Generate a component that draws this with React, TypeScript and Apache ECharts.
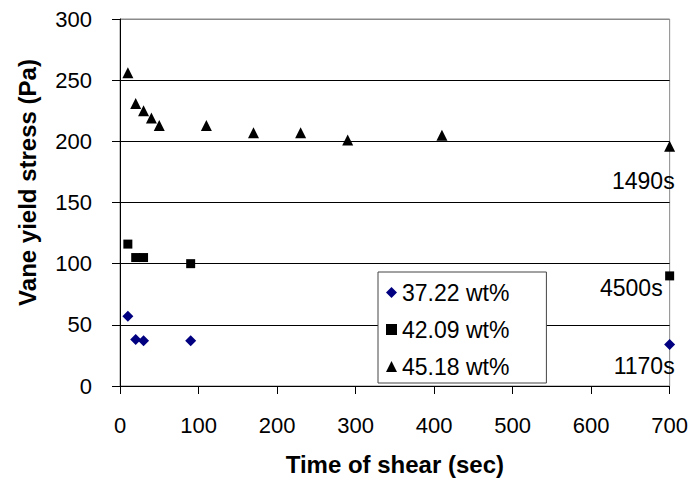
import React, { useEffect, useRef } from "react";
import * as echarts from "echarts";

const FONT = '"Liberation Sans", Arial, Helvetica, sans-serif';

// Series 37.22 wt%
const x37 = [10, 20, 30, 90, 700];
const y37 = [57, 38, 37, 37, 34];
// Series 42.09 wt%
const x42 = [10, 20, 30, 90, 700];
const y42 = [116, 105, 105, 100, 90];
// Series 45.18 wt%
const x45 = [10, 20, 30, 40, 50, 110, 170, 230, 290, 410, 700];
const y45 = [256, 231, 225, 219, 213, 213, 207, 207, 201, 205, 196];

const seriesNames = ["37.22 wt%", "42.09 wt%", "45.18 wt%"];
const endNotes = ["1170s", "4500s", "1490s"];

const xTitle = "Time of shear (sec)";
const yTitle = "Vane yield stress (Pa)";

function build(xs: number[], ys: number[], note: string, offset: number[]) {
  return xs.map((v, i) =>
    i === xs.length - 1
      ? {
          value: [v, ys[i]],
          label: {
            show: true,
            formatter: note,
            position: "inside",
            align: "right",
            verticalAlign: "middle",
            offset,
            fontSize: 23,
            fontFamily: FONT,
            color: "#000",
            opacity: 1,
          },
        }
      : [v, ys[i]]
  );
}

export default function App() {
  const ref = useRef<HTMLDivElement>(null);
  useEffect(() => {
    if (!ref.current) return;
    const chart = echarts.init(ref.current, undefined, { renderer: "svg" });
    chart.setOption({
      animation: false,
      backgroundColor: "#fff",
      textStyle: { fontFamily: FONT },
      grid: {
        left: 120,
        top: 19,
        width: 552,
        height: 367,
        show: true,
        borderColor: "#8a8a8a",
        borderWidth: 1,
        backgroundColor: "transparent",
      },
      legend: {
        orient: "vertical",
        left: 378,
        top: 272,
        padding: [9, 37, 5, 8],
        itemGap: 14,
        itemWidth: 11,
        itemHeight: 11,
        backgroundColor: "#fff",
        borderColor: "#444",
        borderWidth: 1,
        data: seriesNames,
        textStyle: { fontSize: 23, color: "#000", fontFamily: FONT },
      },
      xAxis: {
        type: "value",
        min: 0,
        max: 700,
        interval: 100,
        name: xTitle,
        nameLocation: "middle",
        nameGap: 66,
        nameTextStyle: { fontSize: 24, fontWeight: "bold", color: "#000", fontFamily: FONT },
        axisLine: { show: true, lineStyle: { color: "#000", width: 1 } },
        axisTick: { show: true, inside: false, length: 8, lineStyle: { color: "#000" } },
        axisLabel: { fontSize: 22, color: "#000", margin: 28, fontFamily: FONT },
        splitLine: { show: false },
      },
      yAxis: {
        type: "value",
        min: 0,
        max: 300,
        interval: 50,
        name: yTitle,
        nameLocation: "middle",
        nameRotate: 90,
        nameGap: 81,
        nameTextStyle: {
          fontSize: 24,
          fontWeight: "bold",
          color: "#000",
          fontFamily: FONT,
          padding: [0, 0, 0, 40],
        },
        axisLine: { show: true, lineStyle: { color: "#000", width: 1 } },
        axisTick: { show: true, inside: false, length: 8, lineStyle: { color: "#000" } },
        axisLabel: { fontSize: 22, color: "#000", margin: 28, fontFamily: FONT },
        splitLine: {
          show: true,
          lineStyle: {
            color: ["#000", "#000", "#000", "#000", "#000", "#000", "#8a8a8a"],
            width: 1,
          },
        },
      },
      series: [
        {
          name: seriesNames[0],
          type: "scatter",
          symbol: "diamond",
          symbolSize: 11,
          itemStyle: { color: "#000080", opacity: 1 },
          data: build(x37, y37, endNotes[0], [5, 22]),
        },
        {
          name: seriesNames[1],
          type: "scatter",
          symbol: "rect",
          symbolSize: 9,
          itemStyle: { color: "#000", opacity: 1 },
          data: build(x42, y42, endNotes[1], [-7, 12]),
        },
        {
          name: seriesNames[2],
          type: "scatter",
          symbol: "triangle",
          symbolSize: 11,
          itemStyle: { color: "#000", opacity: 1 },
          data: build(x45, y45, endNotes[2], [5, 35]),
        },
      ],
    });
    return () => chart.dispose();
  }, []);
  return (
    <div
      ref={ref}
      style={{ position: "fixed", left: 0, top: 0, width: 691, height: 488 }}
    />
  );
}
